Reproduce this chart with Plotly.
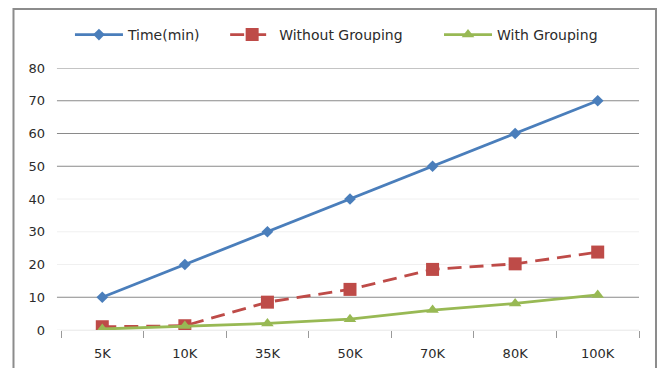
import plotly.graph_objects as go

# Dataset sizes and timings
categories = ["5K", "10K", "35K", "50K", "70K", "80K", "100K"]
time_min = [10, 20, 30, 40, 50, 60, 70]
without_grouping = [1.0, 1.3, 8.5, 12.4, 18.5, 20.2, 23.8]
with_grouping = [0.3, 1.2, 2.0, 3.3, 6.1, 8.1, 10.7]

y_ticks = [0, 10, 20, 30, 40, 50, 60, 70, 80]
# grid levels drawn prominently vs. very faint
strong_grid = [10, 50, 60, 70, 80]

BLUE = "#4A7EBB"
RED = "#BE4B48"
GREEN = "#98B954"
FONT = "DejaVu Sans, sans-serif"
TEXT = "#2b2b2b"

fig = go.Figure()

fig.add_trace(go.Scatter(
    x=categories, y=time_min, name="Time(min)", mode="lines+markers",
    line=dict(color=BLUE, width=2.8),
    marker=dict(symbol="diamond", size=9, color=BLUE),
    legend="legend",
))
fig.add_trace(go.Scatter(
    x=categories, y=without_grouping, name="Without Grouping", mode="lines+markers",
    line=dict(color=RED, width=2.8, dash="14px,8px"),
    marker=dict(symbol="square", size=13, color=RED),
    legend="legend2",
))
fig.add_trace(go.Scatter(
    x=categories, y=with_grouping, name="With Grouping", mode="lines+markers",
    line=dict(color=GREEN, width=2.8),
    marker=dict(symbol="triangle-up", size=11, color=GREEN),
    legend="legend3",
))

shapes = []
for v in y_ticks:
    strong = v in strong_grid
    shapes.append(dict(
        type="line", xref="paper", yref="y", x0=-0.007, x1=1, y0=v, y1=v,
        line=dict(color="#8a8a8a" if strong else "#f0f0f0", width=1),
        layer="below",
    ))
# outer chart frame
shapes.append(dict(
    type="rect", xref="paper", yref="paper",
    x0=-0.0822, x1=1.0294, y0=-0.25, y1=1.2252,
    line=dict(color="#8c8c8c", width=2),
))

legend_common = dict(
    orientation="h", xanchor="left", y=1.126, yanchor="middle",
    font=dict(family=FONT, size=14, color=TEXT),
    bgcolor="rgba(0,0,0,0)",
)

fig.update_layout(
    width=660, height=368,
    margin=dict(l=61, r=21, t=68, b=38, autoexpand=False),
    paper_bgcolor="white", plot_bgcolor="white",
    font=dict(family=FONT, size=13, color=TEXT),
    shapes=shapes,
    showlegend=True,
    legend=dict(x=0.0155, itemwidth=48, **legend_common),
    legend2=dict(x=0.284, itemwidth=44, **legend_common),
    legend3=dict(x=0.654, itemwidth=48, **legend_common),
    xaxis=dict(
        type="category", range=[-0.5, 6.5], showgrid=False, zeroline=False,
        showline=True, linecolor="#eeeeee", linewidth=1, automargin=False,
        ticks="outside", tickson="boundaries", ticklen=7,
        tickcolor="#9a9a9a", tickwidth=1, ticklabelstandoff=11,
        tickfont=dict(family=FONT, size=13, color=TEXT),
    ),
    yaxis=dict(
        range=[0, 80], tickvals=y_ticks, showgrid=False, zeroline=False,
        showline=False, ticks="", ticklabelstandoff=15, automargin=False,
        tickfont=dict(family=FONT, size=13, color=TEXT),
    ),
)

fig.write_html("out.html")
